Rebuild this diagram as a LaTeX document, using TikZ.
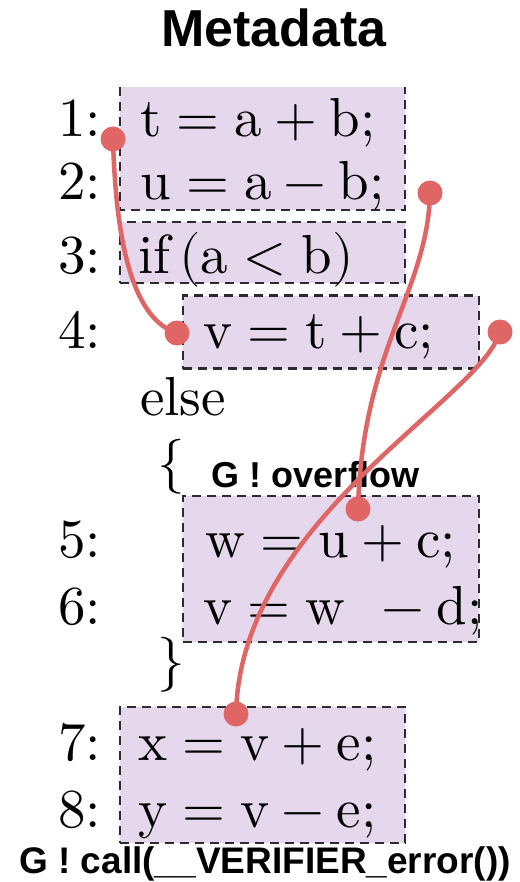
\documentclass[tikz,border=0pt]{standalone}
\usepackage{fontspec}
\usepackage{unicode-math}
\setmainfont{lmroman10-regular}[Extension=.otf, BoldFont=lmroman10-bold]
\setmathfont{Latin Modern Math}
\newfontfamily\labelfont{Liberation Sans}
\usetikzlibrary{positioning}
\definecolor{dotred}{RGB}{224,102,102}
\definecolor{boxfill}{RGB}{229,216,236}
\definecolor{boxline}{RGB}{45,42,50}

\begin{document}
\begin{tikzpicture}[
        x=1pt, y=-1pt,
        codebox/.style={rectangle, fill=boxfill, inner sep=0pt},
        boxedge/.style={draw=boxline, line width=2.5pt, dash pattern=on 9pt off 6pt},
        code/.style={anchor=base west, inner sep=0pt, font=\fontsize{55}{60}\selectfont},
        num/.style={anchor=base east, inner sep=0pt, font=\fontsize{55}{60}\selectfont},
        tag/.style={anchor=base, inner sep=0pt, font=\labelfont\bfseries\fontsize{36}{40}\selectfont},
        dot/.style={circle, fill=dotred, minimum size=25pt, inner sep=0pt},
        link/.style={draw=dotred, line width=4.5pt}
    ]
        \useasboundingbox (0,0) rectangle (519,882);

        % shaded blocks
        \node[codebox, minimum width=285pt, minimum height=123pt] (blk12) at (262.5,148.5) {};
        \draw[boxedge] (blk12.north west) -- (blk12.south west) -- (blk12.south east) -- (blk12.north east);
        \node[codebox, boxedge, minimum width=285pt, minimum height=61pt] (blk3) at (262.5,252.5) {};
        \node[codebox, boxedge, minimum width=296pt, minimum height=73pt] (blk4) at (331,332) {};
        \node[codebox, boxedge, minimum width=296pt, minimum height=146pt] (blk56) at (331,569) {};
        \node[codebox, boxedge, minimum width=285pt, minimum height=136pt] (blk78) at (262.5,775) {};

        % line numbers
        \node[num] (n1) at (101,137) {1:};
        \node[num] (n2) at (101,200) {2:};
        \node[num] (n3) at (101,273) {3:};
        \node[num] (n4) at (101,348) {4:};
        \node[num] (n5) at (101,557) {5:};
        \node[num] (n6) at (101,624) {6:};
        \node[num] (n7) at (101,760) {7:};
        \node[num] (n8) at (101,827) {8:};

        % statements
        \node[code] (s1) at (140,137) {$\mathrm{t = a + b;}$};
        \node[code] (s2) at (140,200) {$\mathrm{u = a - b;}$};
        \node[code] (s3) at (138,273) {$\mathrm{if\,(a < b)}$};
        \node[code] (s4) at (203,348) {$\mathrm{v = t + c;}$};
        \node[code] (else) at (140,415) {else};
        \node[code] (open) at (157,480) {$\{$};
        \node[code] (s5) at (205,557) {$\mathrm{w = u + c;}$};
        \node[code] (s6) at (203,624) {$\mathrm{v = w\mskip8mu - d;}$};
        \node[code] (close) at (157,678) {$\}$};
        \node[code] (s7) at (138,760) {$\mathrm{x = v + e;}$};
        \node[code] (s8) at (138,827) {$\mathrm{y = v - e;}$};

        % labels
        \node[tag, font=\labelfont\bfseries\fontsize{52}{58}\selectfont] (title) at (274,47) {Metadata};
        \node[tag] (ovf) at (316,487) {G ! overflow};
        \node[tag, font=\labelfont\bfseries\fontsize{37}{42}\selectfont] (err) at (265,873) {G ! call(\_\_VERIFIER\_error())};

        % dependency links
        \node[dot] (d1) at (113,139) {};
        \node[dot] (d2) at (430,193) {};
        \node[dot] (d3) at (177,333) {};
        \node[dot] (d4) at (500,332) {};
        \node[dot] (d5) at (358,509) {};
        \node[dot] (d6) at (236,714) {};

        \draw[link] (d1.center) .. controls (116,250) and (135,320) .. (d3.center);
        \draw[link] (d2.center) .. controls (428,290) and (362,350) .. (d5.center);
        \draw[link] (d4.center) .. controls (480,400) and (240,520) .. (d6.center);
    \end{tikzpicture}
\end{document}
